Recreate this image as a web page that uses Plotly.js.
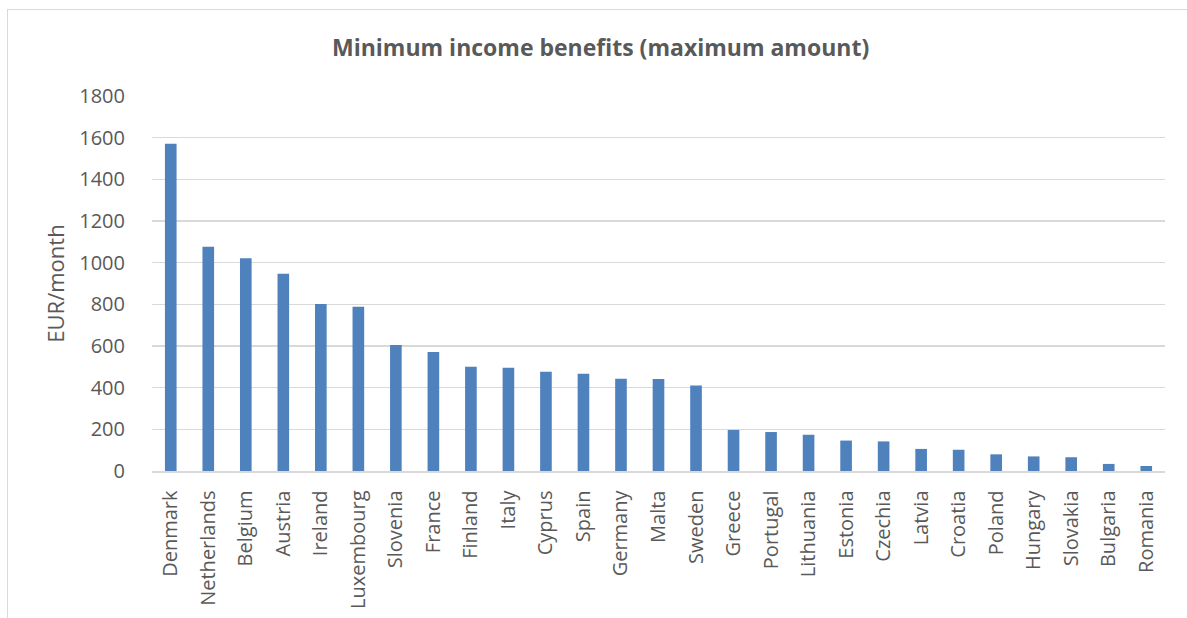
<!DOCTYPE html>
<html>
<head>
<meta charset="utf-8">
<script src="https://cdn.plot.ly/plotly-3.0.1.min.js"></script>
<style>
html,body{margin:0;padding:0;background:#fff;}
#chart{width:1187px;height:618px;}
#frame{position:absolute;left:7px;top:9px;width:1200px;height:700px;border-left:1px solid #d9d9d9;border-top:1px solid #d9d9d9;pointer-events:none;}
</style>
</head>
<body>
<div id="chart"></div>
<div id="frame"></div>
<script>
const countries = ["Denmark","Netherlands","Belgium","Austria","Ireland","Luxembourg","Slovenia","France","Finland","Italy","Cyprus","Spain","Germany","Malta","Sweden","Greece","Portugal","Lithuania","Estonia","Czechia","Latvia","Croatia","Poland","Hungary","Slovakia","Bulgaria","Romania"];
const benefits = [1571,1077,1021,947,802,789,605,571,501,496,477,467,443,442,410,197,187,174,146,142,106,102,80,70,66,34,24];
const yTicks = [0,200,400,600,800,1000,1200,1400,1600,1800];

const txt = '#595959';
const font = 'Open Sans, Noto Sans, sans-serif';

Plotly.newPlot('chart', [{
  type: 'bar',
  x: countries,
  y: benefits,
  marker: {color: '#4f81bd', line: {width: 0}},
  hoverinfo: 'x+y'
}], {
  width: 1187, height: 618,
  margin: {l: 152, r: 22, t: 96, b: 147},
  paper_bgcolor: '#ffffff',
  plot_bgcolor: '#ffffff',
  bargap: 0.69,
  showlegend: false,
  font: {family: font, color: txt, size: 20},
  title: {
    text: '<b>Minimum income benefits (maximum amount)</b>',
    font: {family: font, size: 23, color: txt},
    x: 0.506, xref: 'container', xanchor: 'center', y: 47, yref: 'container', yanchor: 'middle'
  },
  xaxis: {
    type: 'category',
    tickangle: -90,
    tickfont: {family: font, size: 20, color: txt},
    showgrid: false,
    showline: true, linecolor: '#d9d9d9', linewidth: 1.5,
    ticks: 'outside', ticklen: 10, tickcolor: 'rgba(0,0,0,0)',
    automargin: false
  },
  yaxis: {
    range: [0, 1800],
    tickvals: yTicks,
    ticktext: yTicks.map(String),
    tickfont: {family: font, size: 20, color: txt},
    showgrid: true, gridcolor: '#d9d9d9', gridwidth: 1.3,
    zeroline: false,
    showline: false,
    ticks: 'outside', ticklen: 22, tickcolor: 'rgba(0,0,0,0)',
    title: {text: 'EUR/month', font: {family: font, size: 22, color: txt}, standoff: 8},
    automargin: false
  }
}, {displayModeBar: false, staticPlot: true});
</script>
</body>
</html>
